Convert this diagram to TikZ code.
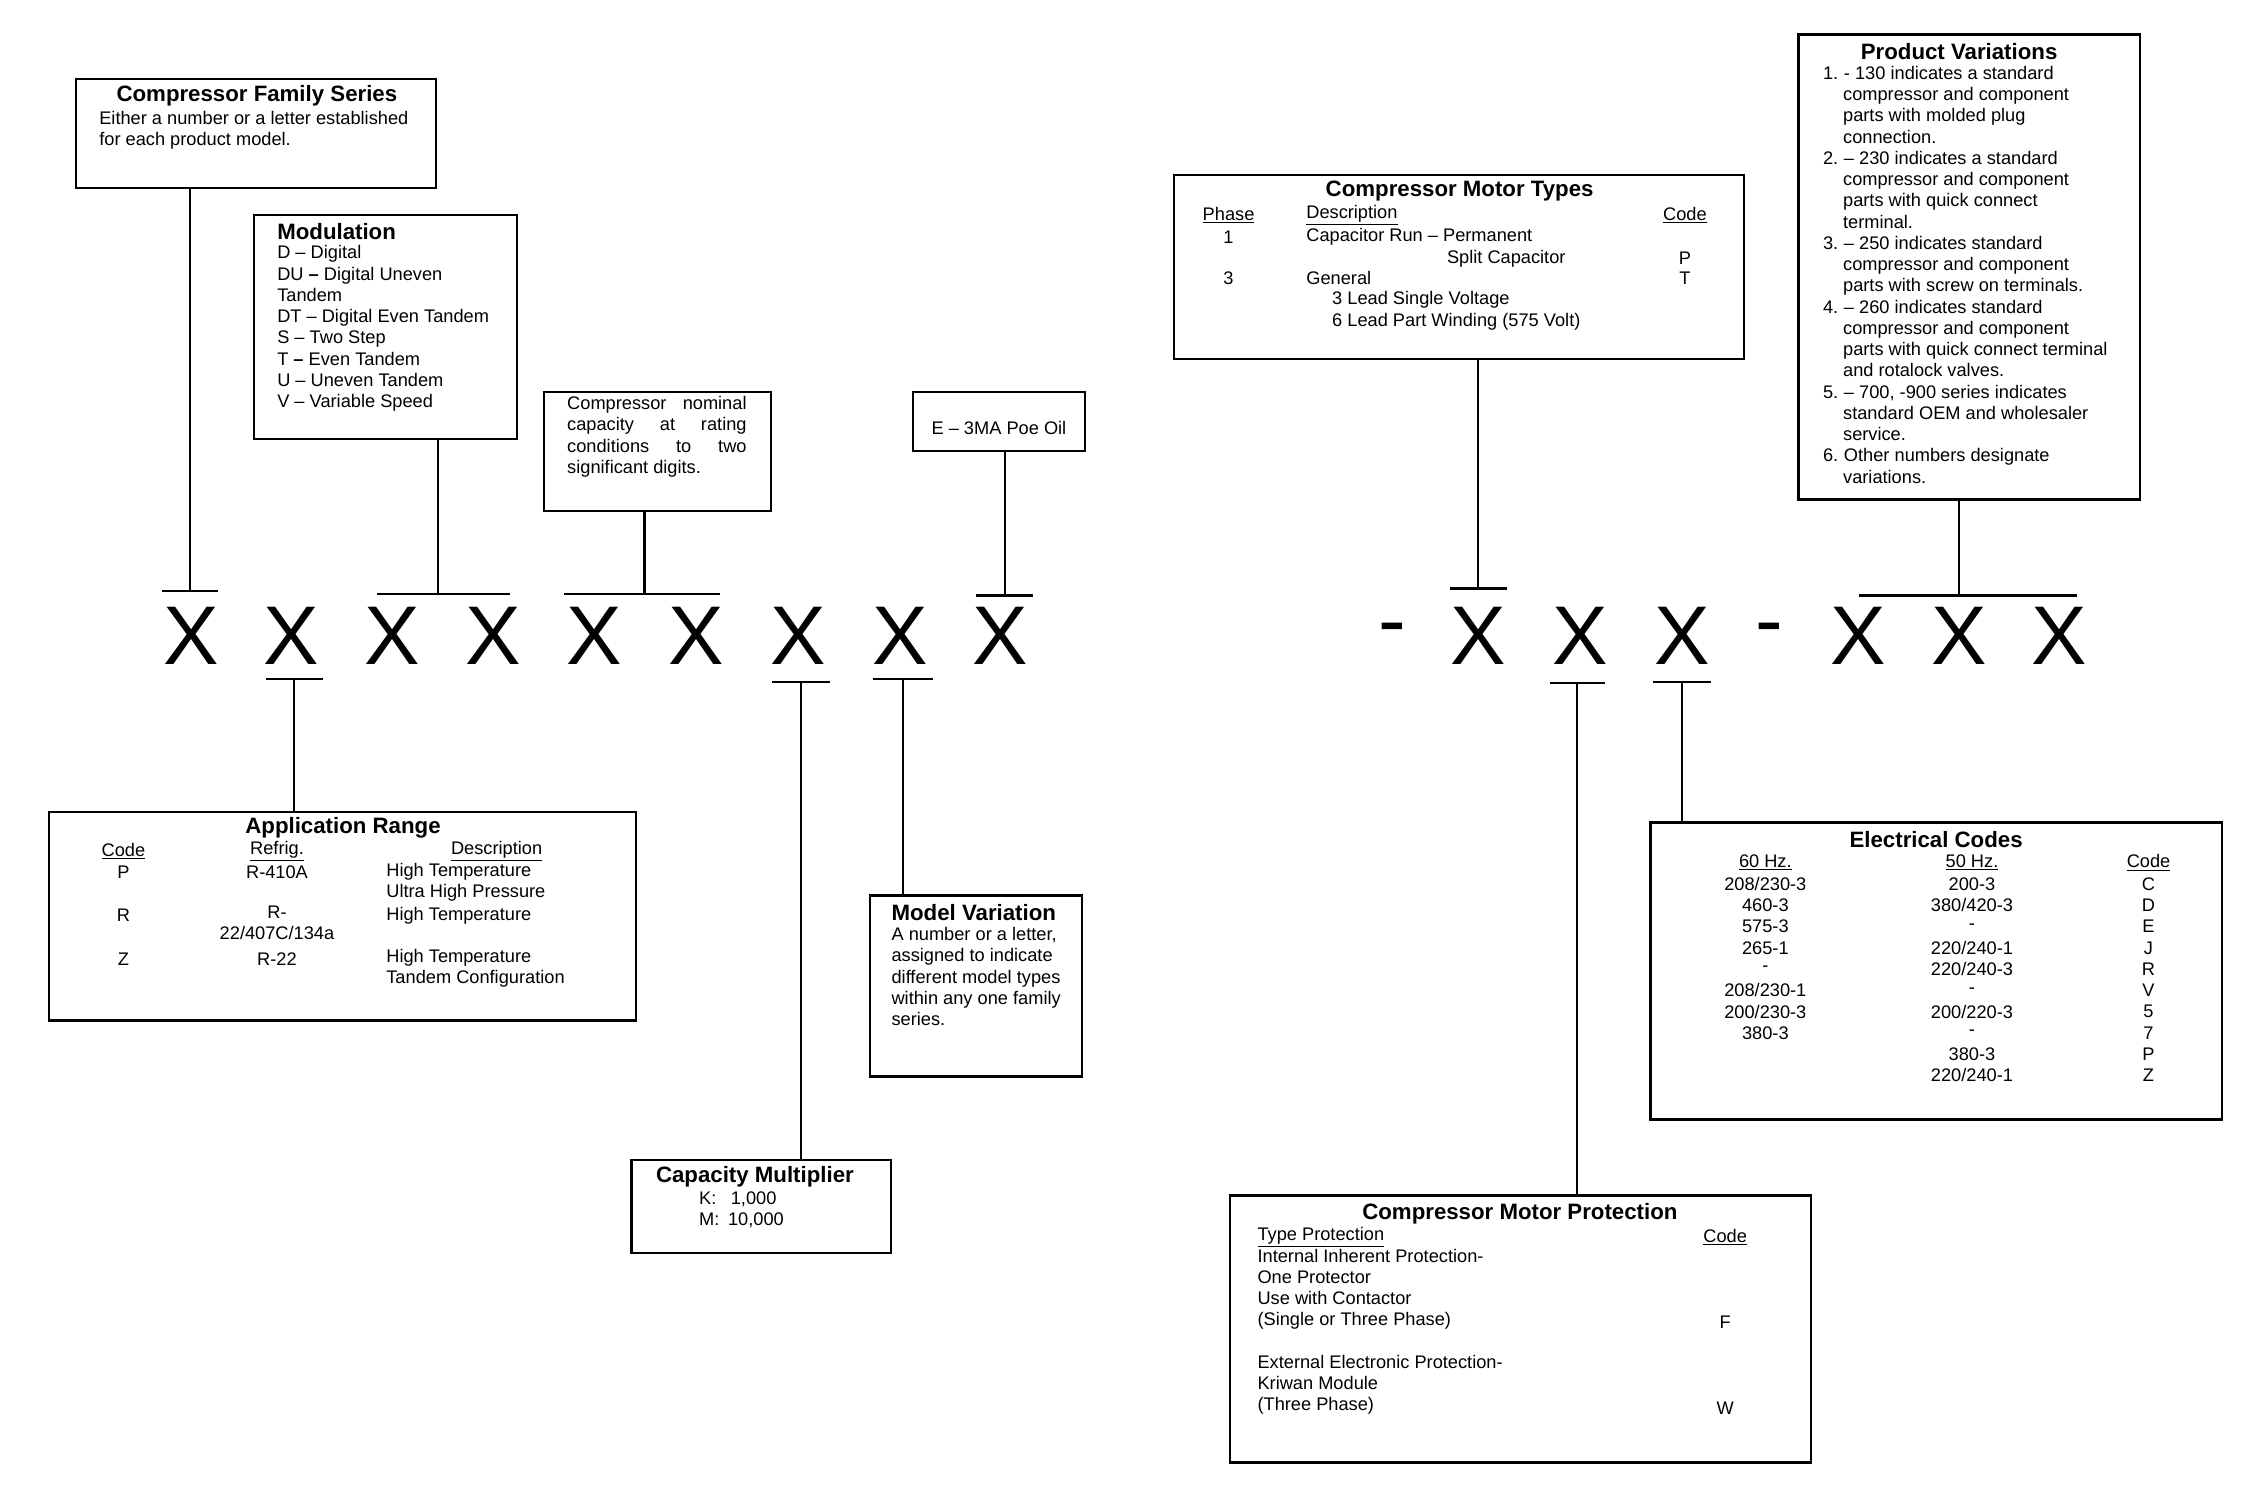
\documentclass[tikz,border=0pt]{standalone}
\usepackage{fontspec}
\setmainfont{Liberation Sans}
\usetikzlibrary{positioning, calc}

\begin{document}
\begin{tikzpicture}[
  x=1pt, y=-1pt,
  every node/.style={inner sep=0pt},
  box/.style={draw, line width=1.6pt},
  ttl/.style={font=\fontsize{15.5}{15}\selectfont\bfseries},
  txt/.style={font=\fontsize{12.7}{14.8}\selectfont, align=left},
  big/.style={font=\fontsize{58}{60}\selectfont},
  bar/.style={line width=1.6pt},
  lnk/.style={line width=1.6pt}
]
\useasboundingbox (0,0) rectangle (1567,1040);

% Model number characters
\foreach \n/\x in {1/133,2/203,3/273,4/344,5/414,6/485,7/556,8/627,9/697}
  \node[big] (x\n) at (\x,443) {X};
\foreach \n/\x in {1/1030,2/1101,3/1172,4/1295,5/1365,6/1435}
  \node[big] (y\n) at (\x,443) {X};
\node[big] (d1) at (970,443) {-};
\node[big] (d2) at (1233,443) {-};

% Bars above and below
\draw[bar] (113,412) -- (152,412) coordinate[pos=.5] (t1);
\draw[bar] (263,414) -- (355,414) coordinate[pos=.5] (t2);
\draw[bar] (393,414) -- (502,414) coordinate[pos=.5] (t3);
\draw[bar] (680,415) -- (720,415) coordinate[pos=.5] (t4);
\draw[bar] (1010,410) -- (1050,410) coordinate[pos=.5] (t5);
\draw[bar] (1295,415) -- (1447,415) coordinate[pos=.5] (t6);
\draw[bar] (185,473) -- (225,473) coordinate[pos=.5] (b1);
\draw[bar] (538,475) -- (578,475) coordinate[pos=.5] (b2);
\draw[bar] (608,473) -- (650,473) coordinate[pos=.5] (b3);
\draw[bar] (1080,476) -- (1118,476) coordinate[pos=.5] (b4);
\draw[bar] (1152,475) -- (1192,475) coordinate[pos=.5] (b5);

% Boxes
\node[box, minimum width=251, minimum height=76] (fam) at (178.5,93) {};
\node[box, minimum width=183, minimum height=156] (mod) at (268.5,228) {};
\node[box, minimum width=158, minimum height=83] (cap) at (458,314.5) {};
\node[box, minimum width=120, minimum height=41] (oil) at (696,293.5) {};
\node[box, minimum width=397, minimum height=128] (mtyp) at (1016.5,186) {};
\node[box, minimum width=238, minimum height=324] (pvar) at (1372,186) {};
\node[box, minimum width=409, minimum height=145] (app) at (238.5,638.5) {};
\node[box, minimum width=148, minimum height=126] (mvar) at (680,687) {};
\node[box, minimum width=181, minimum height=65] (cmul) at (530.5,840.5) {};
\node[box, minimum width=398, minimum height=207] (elec) at (1349,676.5) {};
\node[box, minimum width=405, minimum height=186] (mprot) at (1059.5,926) {};

% Connectors
\draw[lnk] (fam.south -| t1) -- (t1);
\draw[lnk] (mod.south -| 305,0) -- (305,414);
\draw[lnk] (cap.south -| 449,0) -- (449,414);
\draw[lnk] (oil.south -| t4) -- (t4);
\draw[lnk] (mtyp.south -| t5) -- (t5);
\draw[lnk] (pvar.south -| 1365,0) -- (1365,415);
\draw[lnk] (b1) -- (app.north -| b1);
\draw[lnk] (b2) -- (cmul.north -| b2);
\draw[lnk] (b3) -- (mvar.north -| b3);
\draw[lnk] (b4) -- (mprot.north -| b4);
\draw[lnk] (b5) -- (elec.north -| b5);

% Compressor family series
\node[ttl] (famt) at (179,67) {Compressor Family Series};
\node[txt, anchor=north west] (famx) at (69,77) {Either a number or a letter established\\for each product model.};

% Modulation
\node[ttl, anchor=west] (modt) at (193,161) {Modulation};
\node[txt, anchor=north west] (modx) at (193,171) {D -- Digital\\DU \textbf{--} Digital Uneven\\Tandem\\DT -- Digital Even Tandem\\S -- Two Step\\T \textbf{--} Even Tandem\\U -- Uneven Tandem\\V -- Variable Speed};

% Capacity
\node[txt, anchor=north west] (capx) at (395,276) {\makebox[125pt][s]{Compressor nominal}\\\makebox[125pt][s]{capacity at rating}\\\makebox[125pt][s]{conditions to two}\\significant digits.};
\node[txt] (oilx) at (696,298) {E -- 3MA Poe Oil};

% Motor types
\node[ttl] (mtypt) at (1017,133) {Compressor Motor Types};
\node[txt] (mph) at (856,150) {\underline{Phase}};
\node[txt, anchor=west] (mde) at (910,150) {\underline{Description}};
\node[txt] (mco) at (1174,150) {\underline{Code}};
\node[txt] (mp1) at (856,165) {1};
\node[txt, anchor=west] (md1) at (910,165) {Capacitor Run -- Permanent};
\node[txt, anchor=west] (md2) at (1008,180) {Split Capacitor};
\node[txt] (mc1) at (1174,180) {P};
\node[txt] (mp3) at (856,194) {3};
\node[txt, anchor=west] (md3) at (910,194) {General};
\node[txt] (mc3) at (1174,194) {T};
\node[txt, anchor=west] (md4) at (928,209) {3 Lead Single Voltage};
\node[txt, anchor=west] (md5) at (928,224) {6 Lead Part Winding (575 Volt)};

% Product variations
\node[ttl] (pvart) at (1365,36) {Product Variations};
\node[txt, anchor=north west] (pvarx) at (1270,46) {1.\hspace{4pt}- 130 indicates a standard\\\hspace*{14pt}compressor and component\\\hspace*{14pt}parts with molded plug\\\hspace*{14pt}connection.\\2.\hspace{4pt}-- 230 indicates a standard\\\hspace*{14pt}compressor and component\\\hspace*{14pt}parts with quick connect\\\hspace*{14pt}terminal.\\3.\hspace{4pt}-- 250 indicates standard\\\hspace*{14pt}compressor and component\\\hspace*{14pt}parts with screw on terminals.\\4.\hspace{4pt}-- 260 indicates standard\\\hspace*{14pt}compressor and component\\\hspace*{14pt}parts with quick connect terminal\\\hspace*{14pt}and rotalock valves.\\5.\hspace{4pt}-- 700, -900 series indicates\\\hspace*{14pt}standard OEM and wholesaler\\\hspace*{14pt}service.\\6.\hspace{4pt}Other numbers designate\\\hspace*{14pt}variations.};

% Application range
\node[ttl] (appt) at (239,577) {Application Range};
\node[txt] (apc) at (86,593) {\underline{Code}};
\node[txt] (apr) at (193,593) {\underline{Refrig.}};
\node[txt] (apd) at (346,593) {\underline{Description}};
\node[txt] (ap1) at (86,608) {P};
\node[txt] (ar1) at (193,608) {R-410A};
\node[txt, anchor=north west] (ad1) at (269,601) {High Temperature\\Ultra High Pressure};
\node[txt] (ap2) at (86,638) {R};
\node[txt, align=center, anchor=north] (ar2) at (193,631) {R-\\22/407C/134a};
\node[txt, anchor=west] (ad2) at (269,638) {High Temperature};
\node[txt] (ap3) at (86,668) {Z};
\node[txt] (ar3) at (193,668) {R-22};
\node[txt, anchor=north west] (ad3) at (269,661) {High Temperature\\Tandem Configuration};

% Model variation
\node[ttl, anchor=west] (mvart) at (621,636) {Model Variation};
\node[txt, anchor=north west] (mvarx) at (621,646) {A number or a letter,\\assigned to indicate\\different model types\\within any one family\\series.};

% Capacity multiplier
\node[ttl] (cmult) at (526,820) {Capacity Multiplier};
\node[txt, anchor=north west] (cmulx) at (487,830) {K:\hspace{10pt}1,000\\M:\hspace{6pt}10,000};

% Electrical codes
\node[ttl] (elect) at (1349,585) {Electrical Codes};
\node[txt] (e60) at (1230,601) {\underline{60 Hz.}};
\node[txt] (e50) at (1374,601) {\underline{50 Hz.}};
\node[txt] (eco) at (1497,601) {\underline{Code}};
\foreach \i/\a/\b/\c in {0/208\slash 230-3/200-3/C, 1/460-3/380\slash 420-3/D, 2/575-3/-/E,
  3/265-1/220\slash 240-1/J, 4/-/220\slash 240-3/R, 5/208\slash 230-1/-/V,
  6/200\slash 230-3/200\slash 220-3/5, 7/380-3/-/7, 8//380-3/P, 9//220\slash 240-1/Z} {
  \node[txt] (ea\i) at (1230,616+14.8*\i) {\a};
  \node[txt] (eb\i) at (1374,616+14.8*\i) {\b};
  \node[txt] (ec\i) at (1497,616+14.8*\i) {\c};
}

% Motor protection
\node[ttl] (mprott) at (1059,846) {Compressor Motor Protection};
\node[txt, anchor=west] (mpty) at (876,862) {\underline{Type Protection}};
\node[txt] (mpco) at (1202,862) {\underline{Code}};
\node[txt, anchor=north west] (mpx) at (876,870) {Internal Inherent Protection-\\One Protector\\Use with Contactor\\(Single or Three Phase)\\[14.8pt]External Electronic Protection-\\Kriwan Module\\(Three Phase)};
\node[txt] (mpf) at (1202,921) {F};
\node[txt] (mpw) at (1202,981) {W};
\end{tikzpicture}
\end{document}
